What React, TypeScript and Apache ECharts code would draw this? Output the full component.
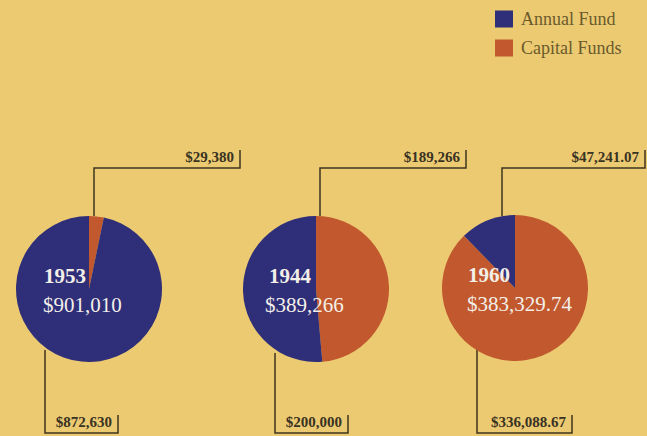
import React, { useEffect, useRef } from "react";
import * as echarts from "echarts";

// ---- data ----
const years = ["1953", "1944", "1960"];
const totalLabels = ["$901,010", "$389,266", "$383,329.74"];
const seriesNames = ["Annual Fund", "Capital Funds"];
const annualFund = [872630, 200000, 47241.07];
const capitalFunds = [29380, 189266, 336088.67];

// ---- layout (positions only) ----
const centers: [number, number][] = [
  [89, 289],
  [316, 289],
  [515, 288],
];
const RADIUS = 73;
const topAttachDx = [5, 4, -13];
const bottomAttachX = [45, 275, 477];
const bottomStartY = [350, 353, 307];
const topBarX = [240, 466, 645];
const bottomBarX = [118, 348, 572];
const yearDx = [-45, -47, -47];
const totalDx = [-46, -51, -48];
const TOP_LINE_Y = 168;
const BOTTOM_LINE_Y = 433;

const BLUE = "#2f2e78";
const ORANGE = "#c1582e";
const BG = "#ecca72";
const LINE = "#3f3620";
const SERIF = "'Liberation Serif', 'DejaVu Serif', serif";

function fmt(v: number): string {
  const isInt = Math.abs(v - Math.round(v)) < 1e-9;
  return (
    "$" +
    v.toLocaleString("en-US", {
      minimumFractionDigits: isInt ? 0 : 2,
      maximumFractionDigits: isInt ? 0 : 2,
    })
  );
}

export default function App() {
  const ref = useRef<HTMLDivElement>(null);
  useEffect(() => {
    if (!ref.current) return;
    const chart = echarts.init(ref.current, undefined, { renderer: "svg" });

    const series: any[] = years.map((y, i) => ({
      type: "pie",
      name: y,
      center: centers[i],
      radius: [0, RADIUS],
      startAngle: 90,
      clockwise: true,
      silent: true,
      label: { show: false },
      labelLine: { show: false },
      emphasis: { disabled: true },
      data: [
        { name: seriesNames[1], value: capitalFunds[i], itemStyle: { color: ORANGE } },
        { name: seriesNames[0], value: annualFund[i], itemStyle: { color: BLUE } },
      ],
    }));

    const graphics: any[] = [];
    years.forEach((y, i) => {
      const [cx, cy] = centers[i];
      const topIsCapital = capitalFunds[i] <= annualFund[i];
      const topVal = topIsCapital ? capitalFunds[i] : annualFund[i];
      const botVal = topIsCapital ? annualFund[i] : capitalFunds[i];
      const tx = cx + topAttachDx[i];
      const ty = cy - Math.sqrt(RADIUS * RADIUS - topAttachDx[i] * topAttachDx[i]);
      graphics.push({
        type: "polyline",
        silent: true,
        shape: { points: [[tx, ty], [tx, TOP_LINE_Y], [topBarX[i], TOP_LINE_Y], [topBarX[i], TOP_LINE_Y - 18]] },
        style: { stroke: LINE, lineWidth: 1.5, fill: "none" },
      });
      graphics.push({
        type: "text",
        silent: true,
        x: topBarX[i] - 6,
        y: TOP_LINE_Y - 11,
        style: {
          text: fmt(topVal),
          fill: "#3a3322",
          font: `bold 15px ${SERIF}`,
          align: "right",
          verticalAlign: "middle",
        },
      });
      const bx = bottomAttachX[i];
      graphics.push({
        type: "polyline",
        silent: true,
        shape: { points: [[bx, bottomStartY[i]], [bx, BOTTOM_LINE_Y], [bottomBarX[i], BOTTOM_LINE_Y], [bottomBarX[i], BOTTOM_LINE_Y - 18]] },
        style: { stroke: LINE, lineWidth: 1.5, fill: "none" },
      });
      graphics.push({
        type: "text",
        silent: true,
        x: bottomBarX[i] - 6,
        y: BOTTOM_LINE_Y - 11,
        style: {
          text: fmt(botVal),
          fill: "#3a3322",
          font: `bold 15px ${SERIF}`,
          align: "right",
          verticalAlign: "middle",
        },
      });
      graphics.push({
        type: "text",
        silent: true,
        x: cx + yearDx[i],
        y: cy - 13,
        z: 10,
        style: {
          text: y,
          fill: "#f3efe8",
          font: `bold 21px ${SERIF}`,
          align: "left",
          verticalAlign: "middle",
        },
      });
      graphics.push({
        type: "text",
        silent: true,
        x: cx + totalDx[i],
        y: cy + 16,
        z: 10,
        style: {
          text: totalLabels[i],
          fill: "#f3efe8",
          font: `21px ${SERIF}`,
          align: "left",
          verticalAlign: "middle",
        },
      });
    });

    chart.setOption({
      animation: false,
      backgroundColor: BG,
      legend: {
        orient: "vertical",
        left: 495,
        top: 10,
        padding: 0,
        itemGap: 11,
        itemWidth: 18,
        itemHeight: 17,
        icon: "rect",
        selectedMode: false,
        data: [
          { name: seriesNames[0], itemStyle: { color: BLUE } },
          { name: seriesNames[1], itemStyle: { color: ORANGE } },
        ],
        textStyle: { fontFamily: SERIF, fontSize: 18, color: "#6a5a2c", padding: [0, 0, 0, 3] },
      },
      series,
      graphic: graphics,
    });
    return () => chart.dispose();
  }, []);
  return (
    <div
      ref={ref}
      style={{ position: "fixed", left: 0, top: 0, width: 647, height: 436 }}
    />
  );
}
